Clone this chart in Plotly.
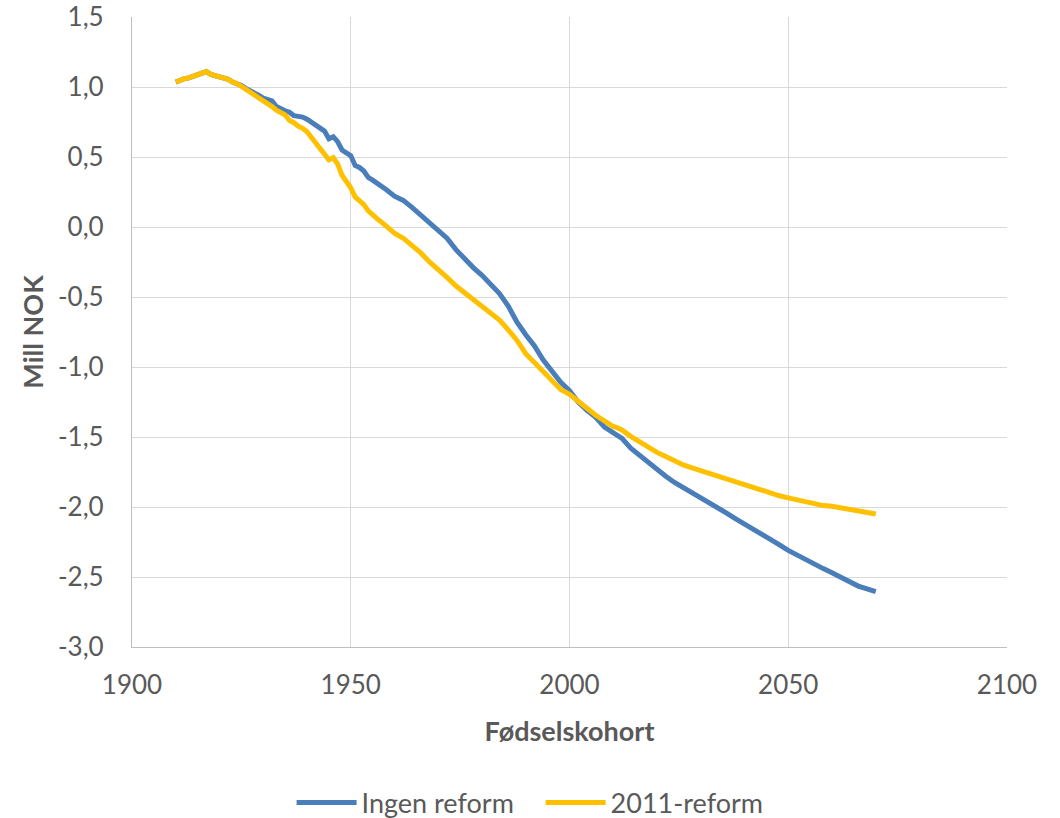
import plotly.graph_objects as go

years_ingen = [1910, 1911, 1912, 1913, 1914, 1915, 1916, 1917, 1918, 1919,
               1920, 1921, 1922, 1923, 1924, 1925, 1926, 1927, 1928, 1929,
               1930, 1931, 1932, 1933, 1934, 1935, 1936, 1937, 1938, 1939,
               1940, 1941, 1942, 1943, 1944, 1945, 1946, 1947, 1948, 1949,
               1950, 1951, 1952, 1953, 1954, 1955, 1956, 1958, 1960, 1962,
               1964, 1966, 1968, 1970, 1972, 1974, 1976, 1978, 1980, 1982,
               1984, 1986, 1988, 1990, 1992, 1994, 1996, 1998, 2000, 2002,
               2004, 2006, 2008, 2010, 2012, 2014, 2016, 2018, 2020, 2022,
               2024, 2026, 2028, 2030, 2032, 2034, 2036, 2038, 2040, 2042,
               2044, 2046, 2048, 2050, 2052, 2054, 2056, 2058, 2060, 2062,
               2064, 2066, 2068, 2070]
ingen_reform = [1.035, 1.05, 1.06, 1.065, 1.075, 1.09, 1.10, 1.11, 1.09, 1.08,
                1.075, 1.065, 1.055, 1.035, 1.025, 1.01, 0.99, 0.975, 0.96, 0.94,
                0.92, 0.91, 0.90, 0.86, 0.84, 0.83, 0.82, 0.795, 0.79, 0.785,
                0.77, 0.75, 0.725, 0.715, 0.685, 0.63, 0.645, 0.61, 0.55, 0.53,
                0.51, 0.44, 0.425, 0.40, 0.355, 0.335, 0.315, 0.27, 0.22, 0.19,
                0.14, 0.085, 0.03, -0.02, -0.08, -0.16, -0.23, -0.29, -0.345, -0.41,
                -0.475, -0.565, -0.68, -0.77, -0.85, -0.95, -1.03, -1.11, -1.17, -1.25,
                -1.31, -1.36, -1.43, -1.465, -1.51, -1.58, -1.63, -1.69, -1.735, -1.78,
                -1.825, -1.86, -1.90, -1.94, -1.975, -2.01, -2.045, -2.085, -2.12, -2.16,
                -2.195, -2.235, -2.27, -2.31, -2.345, -2.38, -2.415, -2.44, -2.47, -2.505,
                -2.535, -2.565, -2.585, -2.605]

years_2011 = [1910, 1911, 1912, 1913, 1914, 1915, 1916, 1917, 1918, 1919,
              1920, 1921, 1922, 1923, 1924, 1925, 1926, 1927, 1928, 1929,
              1930, 1931, 1932, 1933, 1934, 1935, 1936, 1937, 1938, 1939,
              1940, 1941, 1942, 1943, 1944, 1945, 1946, 1947, 1948, 1949,
              1950, 1951, 1952, 1953, 1954, 1955, 1956, 1958, 1960, 1962,
              1964, 1966, 1968, 1970, 1972, 1974, 1976, 1978, 1980, 1982,
              1984, 1986, 1988, 1990, 1992, 1994, 1996, 1998, 2000, 2002,
              2004, 2006, 2008, 2010, 2011, 2012, 2014, 2016, 2018, 2020,
              2022, 2024, 2026, 2028, 2030, 2032, 2034, 2036, 2038, 2040,
              2042, 2044, 2046, 2048, 2050, 2052, 2054, 2056, 2058, 2060,
              2062, 2064, 2066, 2068, 2070]
reform_2011 = [1.035, 1.05, 1.06, 1.065, 1.075, 1.09, 1.10, 1.11, 1.09, 1.08,
               1.075, 1.065, 1.055, 1.035, 1.025, 1.005, 0.985, 0.97, 0.95, 0.93,
               0.905, 0.89, 0.86, 0.835, 0.815, 0.80, 0.76, 0.745, 0.72, 0.705,
               0.68, 0.64, 0.61, 0.57, 0.53, 0.48, 0.495, 0.45, 0.37, 0.33,
               0.28, 0.215, 0.19, 0.16, 0.115, 0.085, 0.06, 0.01, -0.045, -0.08,
               -0.13, -0.185, -0.25, -0.30, -0.36, -0.42, -0.47, -0.52, -0.56, -0.61,
               -0.665, -0.735, -0.81, -0.905, -0.97, -1.03, -1.095, -1.16, -1.195, -1.24,
               -1.295, -1.345, -1.39, -1.425, -1.435, -1.45, -1.495, -1.535, -1.57, -1.61,
               -1.64, -1.675, -1.70, -1.72, -1.74, -1.76, -1.785, -1.80, -1.825, -1.845,
               -1.865, -1.885, -1.905, -1.92, -1.935, -1.95, -1.965, -1.98, -1.99, -1.995,
               -2.005, -2.015, -2.025, -2.035, -2.05]

series_names = ["Ingen reform", "2011-reform"]
y_tick_values = [1.5, 1.0, 0.5, 0.0, -0.5, -1.0, -1.5, -2.0, -2.5, -3.0]
y_tick_labels = ["1,5", "1,0", "0,5", "0,0", "-0,5", "-1,0", "-1,5", "-2,0", "-2,5", "-3,0"]
x_tick_values = [1900, 1950, 2000, 2050, 2100]
x_tick_labels = ["1900", "1950", "2000", "2050", "2100"]
x_title = "Fødselskohort"
y_title = "Mill NOK"

colors = ["#4a7ebb", "#ffc000"]
text_color = "#595959"
grid_color = "#d9d9d9"
font_family = "Lato, 'Open Sans', sans-serif"

fig = go.Figure()
fig.add_trace(go.Scatter(x=years_ingen, y=ingen_reform, mode="lines",
                         name=series_names[0],
                         line=dict(color=colors[0], width=5)))
fig.add_trace(go.Scatter(x=years_2011, y=reform_2011, mode="lines",
                         name=series_names[1],
                         line=dict(color=colors[1], width=5)))

fig.update_layout(
    width=1060, height=818,
    margin=dict(l=132, r=53, t=17, b=171, autoexpand=False),
    paper_bgcolor="white", plot_bgcolor="white",
    font=dict(family=font_family, size=26, color=text_color),
    showlegend=True,
    legend=dict(orientation="h", xref="container", x=0.510, xanchor="center",
                yref="container", y=15 / 818, yanchor="middle",
                font=dict(size=27, color=text_color),
                itemwidth=60, entrywidth=174, entrywidthmode="pixels",
                traceorder="normal"),
    xaxis=dict(range=[1900, 2100], tickvals=x_tick_values, ticktext=x_tick_labels,
               showgrid=True, gridcolor=grid_color, gridwidth=1.3,
               showline=True, linecolor="#bfbfbf", linewidth=1.3,
               zeroline=False, ticks="", ticklen=0, automargin=False,
               ticklabelstandoff=15, ticklabeloverflow="allow",
               tickfont=dict(size=26, color=text_color),
               title=dict(text="<b>" + x_title + "</b>",
                          font=dict(size=27, color=text_color), standoff=22)),
    yaxis=dict(range=[-3, 1.5], tickvals=y_tick_values, ticktext=y_tick_labels,
               showgrid=True, gridcolor=grid_color, gridwidth=1.3,
               showline=True, linecolor="#bfbfbf", linewidth=1.3,
               zeroline=False, ticks="", ticklen=0, automargin=False,
               ticklabelstandoff=22, ticklabeloverflow="allow",
               tickfont=dict(size=26, color=text_color),
               title=dict(text="<b>" + y_title + "</b>",
                          font=dict(size=27, color=text_color), standoff=6)),
)

fig.write_html("out.html", config={"displayModeBar": False},
               post_script="document.body.style.margin='0';")
